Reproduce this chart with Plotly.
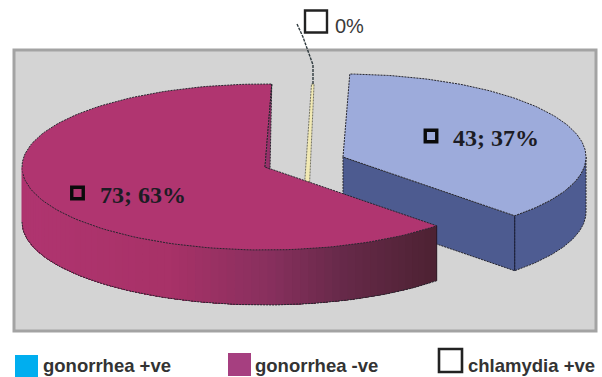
import numpy as np
import plotly.graph_objects as go

# Case counts per result group
categories = ["gonorrhea +ve", "gonorrhea -ve", "chlamydia +ve"]
case_counts = [43, 73, 0]

legend_colors = ["#00aeef", "#a63f80", None]
legend_swatches = [(26.5, 366.5, 23), (239.5, 364.5, 23), (450.5, 360.5, 23)]
legend_text_x = [41, 253, 466]

# Pie geometry, in page pixels
START_ANGLE = 1.6
RX, RY, DEPTH = 243, 83, 55
CENTERS = {"pos": (343, 157), "neg": (265, 167), "zero": (306, 167)}
PANEL = (14, 50, 596, 331)

EDGE = dict(color="#26262e", width=1, dash="2px,1px")
total = sum(case_counts)
pct = [round(v / total * 100) for v in case_counts]
sweep = [v / total * 360 for v in case_counts]


def rim(center, a0, a1, drop=0, n=120):
    t = np.radians(np.linspace(a0, a1, n))
    return center[0] + RX * np.sin(t), center[1] - RY * np.cos(t) + drop


def poly(x, y, fill, line=None):
    fig.add_trace(go.Scatter(
        x=list(x) + [x[0]], y=list(y) + [y[0]], mode="lines", fill="toself",
        fillcolor=fill, line=line or dict(width=0), hoverinfo="skip", showlegend=False))


def outline(x, y, line=EDGE):
    fig.add_trace(go.Scatter(x=x, y=y, mode="lines", line=line,
                             hoverinfo="skip", showlegend=False))


fig = go.Figure()

pos_end = START_ANGLE + sweep[0]
neg_end = pos_end + sweep[1]

# Positive slice: cut face, outer wall, top
c = CENTERS["pos"]
ex, ey = rim(c, pos_end, pos_end, n=1)
poly([c[0], ex[0], ex[0], c[0]], [c[1], ey[0], ey[0] + DEPTH, c[1] + DEPTH], "#4d5b90", EDGE)
tx, ty = rim(c, 90, pos_end)
bx, by = rim(c, 90, pos_end, DEPTH)
poly(np.r_[tx, bx[::-1]], np.r_[ty, by[::-1]], "#4e5c92", EDGE)
tx, ty = rim(c, START_ANGLE, pos_end)
poly(np.r_[c[0], tx], np.r_[c[1], ty], "#9dabdb", EDGE)
outline([ex[0], ex[0]], [ey[0], ey[0] + DEPTH], dict(color="#1d2340", width=1))

# Empty slice: only a hairline remains visible behind the large slice
c = CENTERS["zero"]
zx, zy = rim(c, START_ANGLE - 0.3, START_ANGLE + 0.3, n=8)
poly(np.r_[zx, c[0] + 3.5, c[0] - 1.5], np.r_[zy, c[1] + 18, c[1] + 18], "#f1e9b4",
     dict(color="#55554a", width=0.8, dash="2px,1px"))

# Leader running from the empty slice up to its label
outline([c[0] + 7, c[0] + 7, 303, 297], [84, 65, 37, 24],
        dict(color="#2f3a3e", width=1.4, dash="3px,1px"))

# Negative slice: shaded outer wall, sliver of the cut face, top
c = CENTERS["neg"]
stops_x = [22, 170, 270, 340, 440]
stops_rgb = np.array([[176, 53, 112], [168, 50, 104], [136, 48, 94], [104, 42, 74], [76, 34, 50]])
edges = np.linspace(pos_end, 270, 71)
# Each band runs on to the far end of the wall, so neighbours leave no seam
for a0 in edges[:-1]:
    tx, ty = rim(c, a0, 270, n=60)
    bx, by = rim(c, a0, 270, DEPTH, n=60)
    nx, _ = rim(c, a0, a0 + (edges[1] - edges[0]), n=2)
    rgb = [int(np.interp(nx.mean(), stops_x, stops_rgb[:, i])) for i in range(3)]
    poly(np.r_[tx, bx[::-1]], np.r_[ty, by[::-1]], f"rgb({rgb[0]},{rgb[1]},{rgb[2]})")

tx, ty = rim(c, pos_end, neg_end)
poly(np.r_[c[0], tx], np.r_[c[1], ty], "#b03570", EDGE)
bx, by = rim(c, pos_end, 270, DEPTH)
outline(bx, by)
ex, ey = rim(c, pos_end, pos_end, n=1)
outline([ex[0], ex[0]], [ey[0], ey[0] + DEPTH], dict(color="#2a1420", width=1))
lx, ly = rim(c, 270, 270, n=1)
outline([lx[0], lx[0]], [ly[0], ly[0] + DEPTH], dict(color="#a8336e", width=1))
# Cut face seen at a grazing angle along the slice's start edge
nx, ny = rim(c, neg_end, neg_end, n=1)
poly([nx[0], c[0], c[0] + 5], [ny[0], c[1], c[1] + 2], "#98306a", EDGE)

# Value labels inside the slices
label_sq = [(431, 136), (77.5, 193)]
label_txt = [(451, 138), (98, 195)]
for i in range(2):
    fig.add_trace(go.Scatter(
        x=[label_sq[i][0]], y=[label_sq[i][1]], mode="markers",
        marker=dict(symbol="square-open", size=11.5, color="#0a0a0a", line=dict(width=3.4, color="#0a0a0a")),
        hoverinfo="skip", showlegend=False))
    fig.add_annotation(x=label_txt[i][0], y=label_txt[i][1], xanchor="left", yanchor="middle",
                       text=f"<b>{case_counts[i]}; {pct[i]}%</b>", showarrow=False,
                       font=dict(family="Liberation Serif", size=24, color="#1c1c24"))

# Label of the empty slice, above the panel
fig.add_trace(go.Scatter(
    x=[316], y=[21.5], mode="markers",
    marker=dict(symbol="square-open", size=22, color="#222", line=dict(width=2.4, color="#222")),
    hoverinfo="skip", showlegend=False))
fig.add_annotation(x=333, y=26, xanchor="left", yanchor="middle", text=f"{pct[2]}%", showarrow=False,
                   font=dict(family="Liberation Sans", size=20, color="#3a3a3a"))

# Legend row
for name, color, (sx, sy, size), lx_ in zip(categories, legend_colors, legend_swatches, legend_text_x):
    marker = (dict(symbol="square", size=size, color=color, line=dict(width=0)) if color else
              dict(symbol="square-open", size=size, color="#222", line=dict(width=2.6, color="#222")))
    fig.add_trace(go.Scatter(x=[sx], y=[sy], mode="markers", marker=marker,
                             hoverinfo="skip", showlegend=False))
    fig.add_annotation(x=lx_, y=365, xanchor="left", yanchor="middle", text=f"<b>{name}</b>",
                       showarrow=False, font=dict(family="Liberation Sans", size=18.5, color="#333333"))

fig.update_layout(
    width=602, height=377, margin=dict(l=0, r=0, t=0, b=0),
    paper_bgcolor="white", plot_bgcolor="white", showlegend=False,
    xaxis=dict(range=[0, 602], visible=False, fixedrange=True),
    yaxis=dict(range=[377, 0], visible=False, fixedrange=True),
    shapes=[dict(type="rect", xref="x", yref="y", x0=PANEL[0], y0=PANEL[1], x1=PANEL[2], y1=PANEL[3],
                 fillcolor="#d4d4d4", line=dict(color="#a3a3a3", width=3), layer="below")],
)

fig.write_html("out.html", config=dict(displayModeBar=False))
